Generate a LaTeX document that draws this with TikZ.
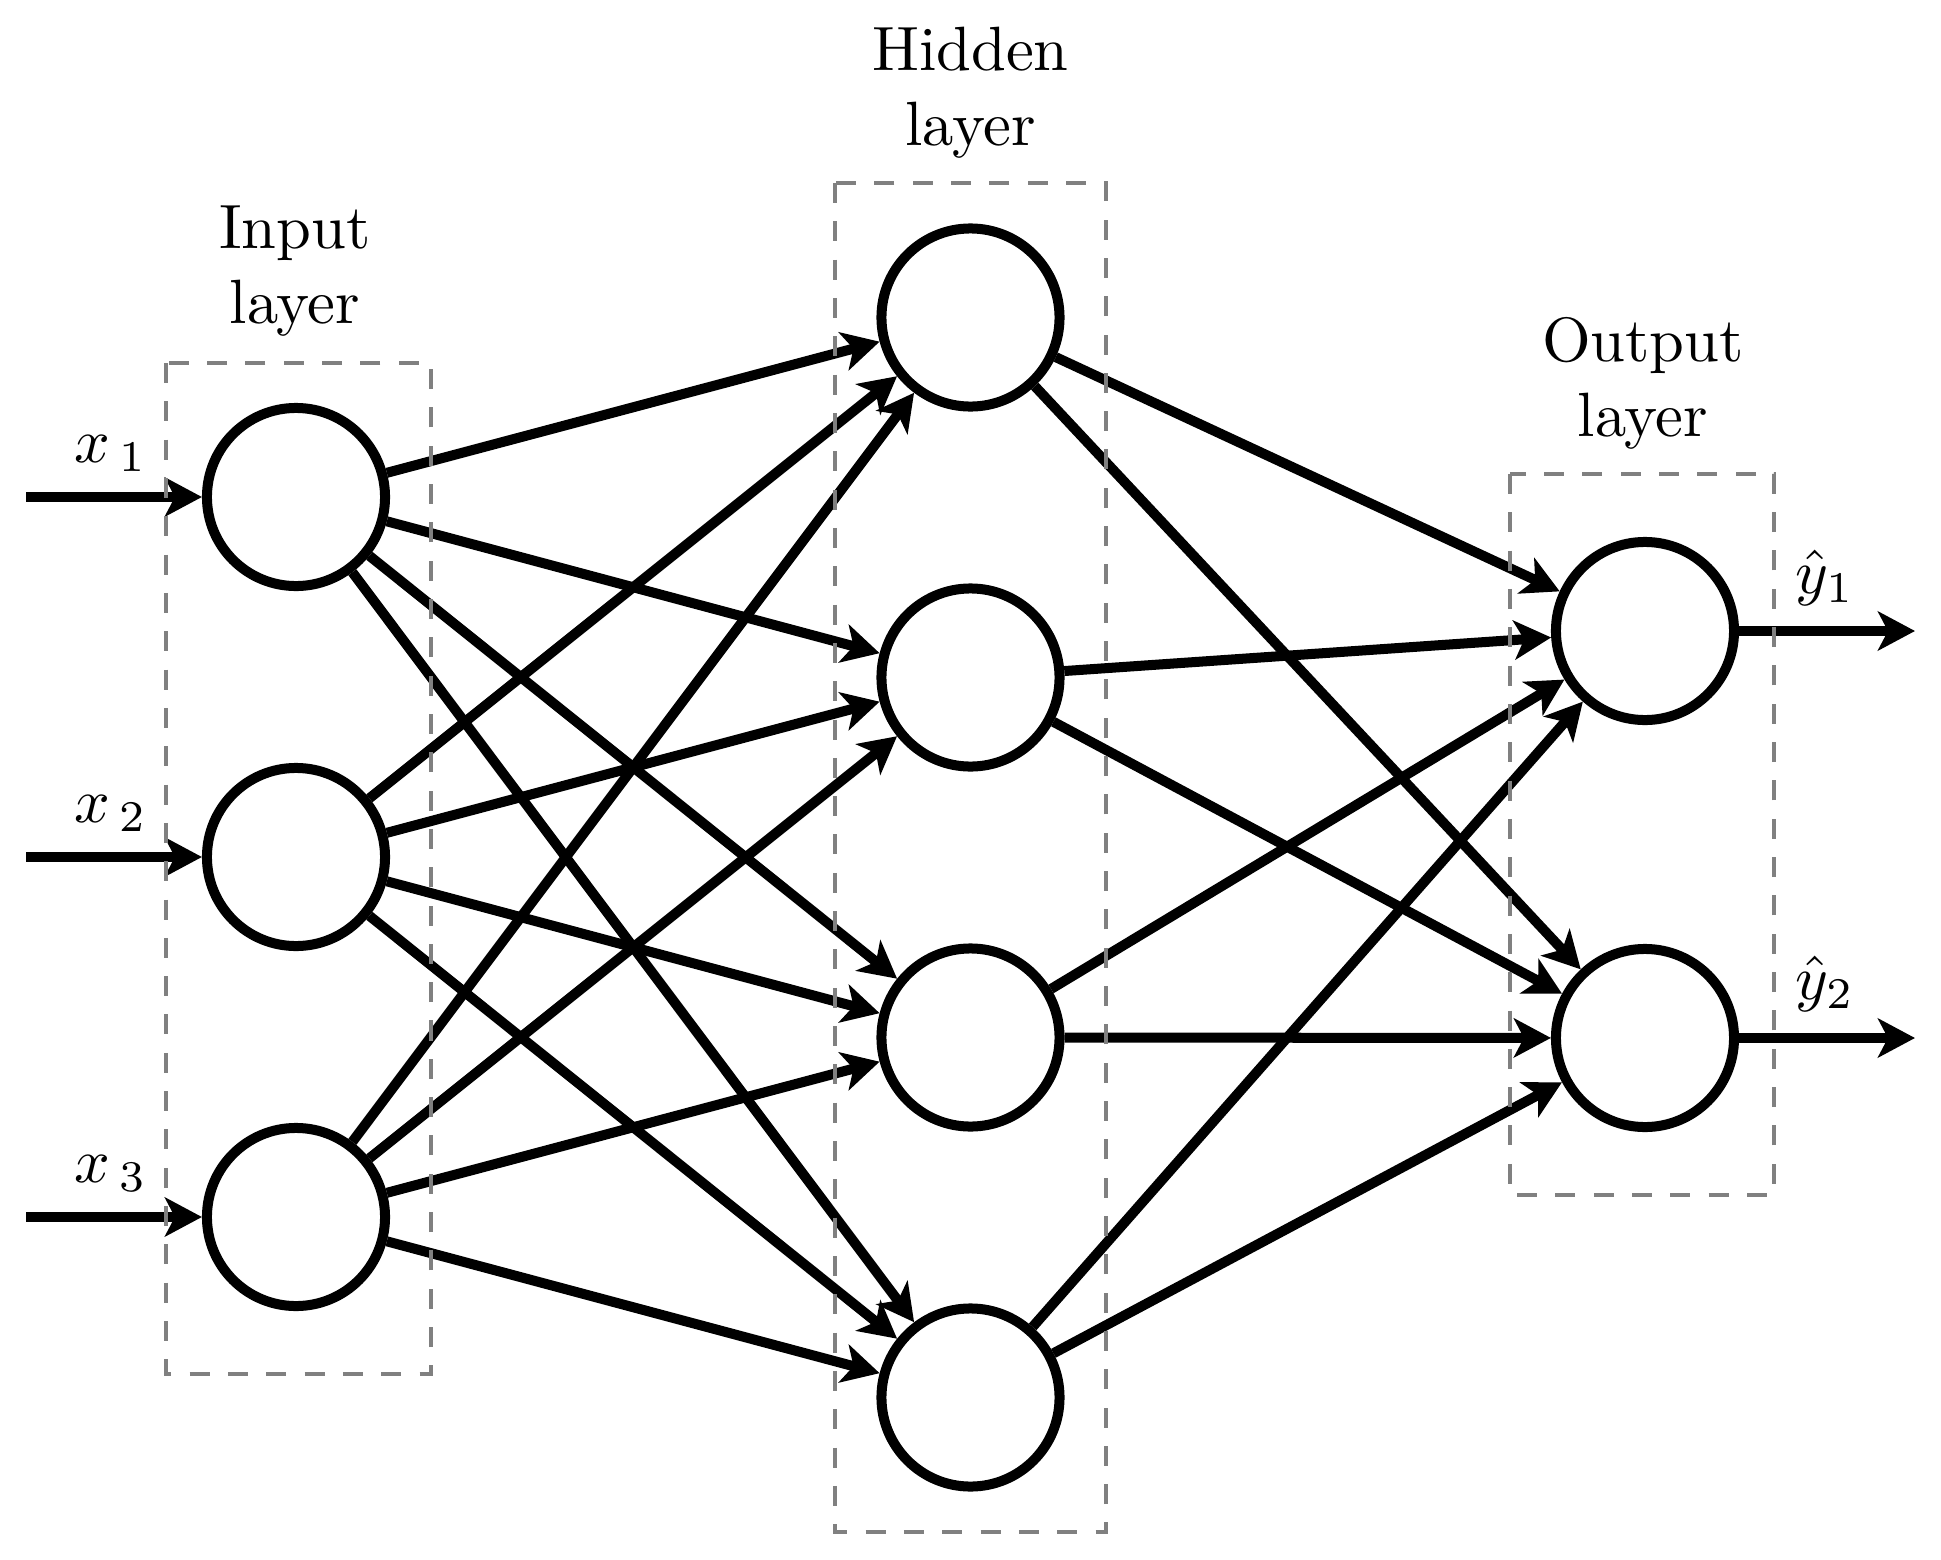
\documentclass[tikz,border=0pt]{standalone}
\usetikzlibrary{arrows.meta}
\begin{document}
\begin{tikzpicture}[x=0.01cm,y=-0.01cm,
  neuron/.style={circle,draw,line width=0.1cm,minimum size=1.78cm,inner sep=0pt,fill=white},
  conn/.style={line width=0.1cm,-{Stealth[length=0.37cm,width=0.39cm,inset=0.1cm]}},
  layerbox/.style={draw=black!50,line width=0.04cm,dash pattern=on 0.2cm off 0.183cm},
  lbl/.style={align=center,font=\fontsize{10}{12}\selectfont,scale=1.78,inner sep=0pt,text depth=0pt,anchor=south},
  mlbl/.style={font=\fontsize{10}{12}\selectfont,scale=1.78,inner sep=0pt,anchor=base}]
\useasboundingbox (0,0) rectangle (1941,1560);
% neurons
\node[neuron] (I1) at (296,497) {};
\node[neuron] (I2) at (296,857) {};
\node[neuron] (I3) at (296,1217) {};
\node[neuron] (H1) at (970.5,317.5) {};
\node[neuron] (H2) at (970.5,677.5) {};
\node[neuron] (H3) at (970.5,1037.5) {};
\node[neuron] (H4) at (970.5,1397.5) {};
\node[neuron] (O1) at (1645,631) {};
\node[neuron] (O2) at (1645,1038) {};
% free ends
\coordinate (in1) at (26,497);
\coordinate (in2) at (26,857);
\coordinate (in3) at (26,1217);
\coordinate (out1) at (1915,631);
\coordinate (out2) at (1915,1038);
% connectors
\foreach \i in {1,2,3} {\draw[conn] (in\i) -- (I\i);}
\foreach \i in {1,2,3} {\foreach \j in {1,...,4} {\draw[conn] (I\i) -- (H\j);}}
\foreach \j in {1,...,4} {\foreach \k in {1,2} {\draw[conn] (H\j) -- (O\k);}}
\foreach \k in {1,2} {\draw[conn] (O\k) -- (out\k);}
% layer boxes
\draw[layerbox] (166,363) rectangle (431,1374);
\draw[layerbox] (835,183) rectangle (1106,1532);
\draw[layerbox] (1510,474) rectangle (1774,1195);
% labels
\node[lbl] (linput) at (295,325) {Input\\layer};
\node[lbl] (lhidden) at (970.5,147) {Hidden\\layer};
\node[lbl] (loutput) at (1643,438) {Output\\layer};
\node[mlbl] (lx1) at (111,462) {$x_{\,1}$};
\node[mlbl] (lx2) at (111,822) {$x_{\,2}$};
\node[mlbl] (lx3) at (111,1182) {$x_{\,3}$};
\node[mlbl] (ly1) at (1825,593) {$\hat{y}_1$};
\node[mlbl] (ly2) at (1825,999) {$\hat{y}_2$};
\end{tikzpicture}
\end{document}
